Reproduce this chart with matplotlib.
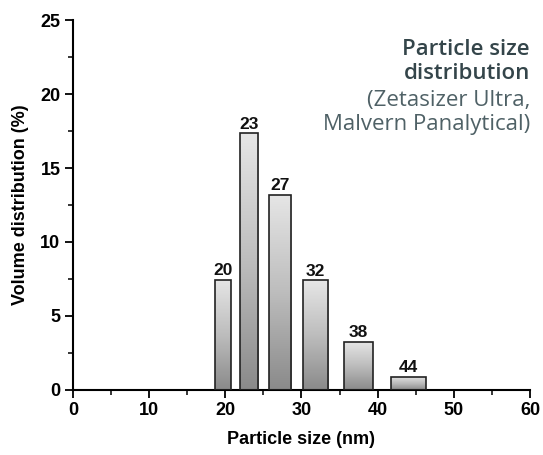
import numpy as np
import matplotlib.pyplot as plt
from matplotlib.ticker import MultipleLocator
from matplotlib.colors import LinearSegmentedColormap

# [Data]________________________________________________________________
size_labels = ["20", "23", "27", "32", "38", "44"]
bin_left = [18.6, 21.9, 25.7, 30.2, 35.6, 41.8]
bin_right = [20.7, 24.3, 28.6, 33.5, 39.4, 46.3]
volume = [7.45, 17.35, 13.2, 7.4, 3.25, 0.9]

plt.rcParams['font.family'] = ['Liberation Sans', 'DejaVu Sans']

fig = plt.figure(figsize=(5.43, 4.55), dpi=100)
ax = fig.add_axes([0.1344, 0.1429, 0.8416, 0.8131])

cmap = LinearSegmentedColormap.from_list("bar", ["#8a8a8a", "#bdbdbd", "#e6e6e6"])
grad = np.linspace(0, 1, 256).reshape(-1, 1)

for lab, l, r, v in zip(size_labels, bin_left, bin_right, volume):
    w = r - l
    bar = ax.bar(l, v, width=w, align="edge", facecolor="none",
                 edgecolor="#222222", linewidth=1.2, zorder=3)[0]
    im = ax.imshow(grad, cmap=cmap, aspect="auto", origin="lower",
                   extent=[l, r, 0, v], zorder=2)
    im.set_clip_path(bar)
    ax.text(l + w / 2, v + 0.1, lab, ha="center", va="bottom",
            fontsize=12.5, fontweight="bold", color="#111111")

ax.set_xlim(0, 60)
ax.set_ylim(0, 25)
ax.xaxis.set_major_locator(MultipleLocator(10))
ax.xaxis.set_minor_locator(MultipleLocator(5))
ax.yaxis.set_major_locator(MultipleLocator(5))
ax.yaxis.set_minor_locator(MultipleLocator(2.5))

for s in ["top", "right"]:
    ax.spines[s].set_visible(False)
for s in ["left", "bottom"]:
    ax.spines[s].set_linewidth(1.5)

ax.tick_params(which="major", direction="out", length=6, width=1.3,
               labelsize=13, pad=3)
ax.tick_params(which="minor", direction="out", length=3.5, width=1.1)
for t in ax.get_xticklabels() + ax.get_yticklabels():
    t.set_fontweight("bold")

ax.set_xlabel("Particle size (nm)", fontsize=13, fontweight="bold", labelpad=8)
ax.set_ylabel("Volume distribution (%)", fontsize=13, fontweight="bold", labelpad=8)

fig.text(0.976, 0.914, "Particle size\ndistribution", ha="right", va="top",
         fontsize=16, fontweight="semibold", family=["Open Sans", "DejaVu Sans"],
         color="#34454a", linespacing=1.2)
fig.text(0.976, 0.802, "(Zetasizer Ultra,\nMalvern Panalytical)", ha="right", va="top",
         fontsize=16, family=["Open Sans", "DejaVu Sans"],
         color="#4f6166", linespacing=1.2)

fig.savefig("out.png", dpi=100)
